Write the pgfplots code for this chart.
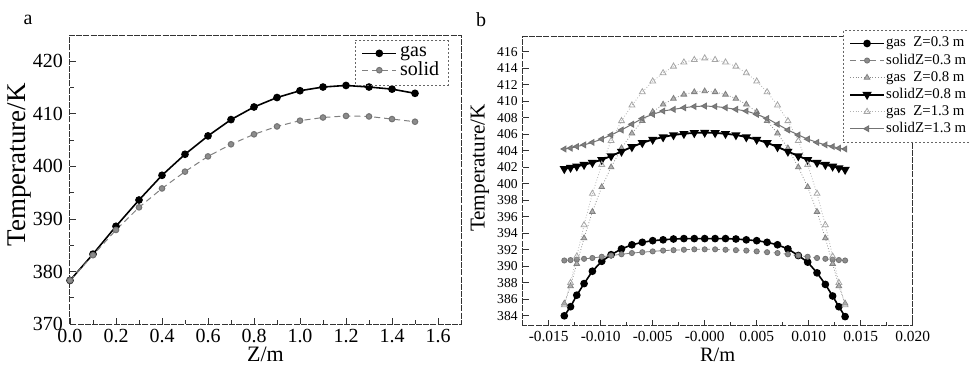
\documentclass[border=0pt]{standalone}
\usepackage{pgfplots}
\pgfplotsset{compat=1.18}
\usepackage{pgfplotstable}
\usepackage{fontspec}
\setmainfont{Liberation Serif}

\pgfplotstableread{
Z gas solid
0.0 378.3 378.3
0.1 383.3 383.1
0.2 388.6 387.9
0.3 393.6 392.2
0.4 398.3 395.8
0.5 402.3 399.0
0.6 405.8 401.9
0.7 408.9 404.2
0.8 411.3 406.1
0.9 413.1 407.6
1.0 414.4 408.7
1.1 415.1 409.3
1.2 415.4 409.6
1.3 415.1 409.5
1.4 414.7 409.0
1.5 413.9 408.5
}\tableA

\pgfplotstableread{
R g03 s03 g08 s08 g13 s13
-0.0135 384.0 390.7 385.5 401.8 385.3 404.2
-0.0129 385.1 390.75 387.6 401.95 388.0 404.3
-0.0123 386.5 390.8 390.3 402.1 391.2 404.5
-0.0116 387.9 390.9 393.4 402.3 395.0 404.7
-0.0108 389.4 391.0 396.6 402.55 398.8 405.0
-0.0099 390.6 391.15 399.6 402.9 402.3 405.4
-0.009 391.4 391.3 402.0 403.35 405.2 405.9
-0.008 392.1 391.45 404.3 403.9 407.6 406.5
-0.007 392.6 391.6 406.1 404.45 409.5 407.2
-0.006 392.9 391.7 407.6 404.95 411.1 407.9
-0.005 393.1 391.8 408.7 405.35 412.4 408.4
-0.004 393.2 391.9 409.6 405.65 413.4 408.8
-0.003 393.3 391.95 410.3 405.9 414.2 409.0
-0.002 393.35 392.0 410.8 406.05 414.7 409.2
-0.001 393.35 392.05 411.1 406.15 415.0 409.35
0.0 393.35 392.05 411.2 406.2 415.2 409.4
0.001 393.35 392.05 411.1 406.15 415.0 409.35
0.002 393.35 392.0 410.8 406.05 414.7 409.2
0.003 393.3 391.95 410.3 405.9 414.2 409.0
0.004 393.2 391.9 409.6 405.65 413.4 408.8
0.005 393.1 391.8 408.7 405.35 412.4 408.4
0.006 392.9 391.7 407.6 404.95 411.1 407.9
0.007 392.6 391.6 406.1 404.45 409.5 407.2
0.008 392.1 391.45 404.3 403.9 407.6 406.5
0.009 391.3 391.3 402.0 403.35 405.2 405.9
0.0099 390.5 391.15 399.6 402.9 402.3 405.4
0.0108 389.2 391.0 396.6 402.55 398.8 405.0
0.0116 387.8 390.9 393.4 402.3 395.0 404.7
0.0123 386.4 390.8 390.3 402.1 391.2 404.5
0.0129 385.1 390.75 387.6 401.9 388.0 404.3
0.0135 383.9 390.7 385.5 401.7 385.3 404.2
}\tableB

\begin{document}
\begin{tikzpicture}
\pgfplotsset{
  common/.style={
    scale only axis,
    axis line style={black!80, line width=0.5pt, dash pattern=on 3pt off 0.6pt},
    tick align=inside,
    xtick pos=bottom, ytick pos=left,
    tick style={black!80, line width=0.4pt},
    major tick length=3pt, minor tick length=1.8pt,
    /pgf/number format/assume math mode=true,
  }
}
% ---------------- panel a ----------------
\begin{axis}[common,
  at={(35pt,-162pt)}, anchor=south west,
  width=195.5pt, height=144.5pt,
  xmin=0, xmax=1.7, ymin=370, ymax=425,
  xtick={0,0.2,0.4,0.6,0.8,1.0,1.2,1.4,1.6},
  xticklabels={0.0,0.2,0.4,0.6,0.8,1.0,1.2,1.4,1.6},
  minor x tick num=1,
  ytick={370,380,390,400,410,420},
  minor y tick num=1,
  tick label style={font=\fontsize{10}{10}\selectfont},
  xticklabel style={yshift=1pt},
  xlabel={Z/m}, ylabel={Temperature/K},
  xlabel style={font=\fontsize{11}{11}\selectfont, at={(axis description cs:0.5,-0.105)}, anchor=center},
  ylabel style={font=\fontsize{13.5}{13.5}\selectfont, at={(axis description cs:-0.13,0.55)}, anchor=center},
  legend style={at={(axis description cs:0.729,0.983)}, anchor=north west,
    draw=black!60, dash pattern=on 1pt off 1pt, fill=none,
    font=\fontsize{10}{9}\selectfont, row sep=-1.5pt,
    nodes={inner ysep=1.2pt, inner xsep=1.5pt, solid}},
  legend cell align=left,
]
\addplot[black, line width=0.8pt, mark=*, mark size=1.5pt] table[x=Z, y=gas] {\tableA};
\addlegendentry{gas}
\addplot[black!50, line width=0.5pt, densely dashed, mark=*, mark size=1.4pt,
  mark options={solid, fill=black!45, draw=black!55}] table[x=Z, y=solid] {\tableA};
\addlegendentry{solid}
\end{axis}
% ---------------- panel b ----------------
\begin{axis}[common,
  at={(261.35pt,-162.85pt)}, anchor=south west,
  width=195pt, height=144.5pt,
  xmin=-0.0175, xmax=0.0200, ymin=382.8, ymax=417.8,
  xtick={-0.015,-0.010,-0.005,0,0.005,0.010,0.015,0.020},
  xticklabels={-0.015,-0.010,-0.005,-0.000,0.005,0.010,0.015,0.020},
  scaled x ticks=false,
  minor x tick num=1,
  ytick={384,386,...,418},
  xticklabel style={font=\fontsize{7.7}{7.7}\selectfont, yshift=1pt},
  yticklabel style={font=\fontsize{6.8}{6.8}\selectfont, xshift=1pt},
  xlabel={R/m}, ylabel={Temperature/K},
  xlabel style={font=\fontsize{10.2}{10.2}\selectfont, at={(axis description cs:0.5,-0.102)}, anchor=center},
  ylabel style={font=\fontsize{10.6}{10.6}\selectfont, at={(axis description cs:-0.11,0.546)}, anchor=center},
  legend style={at={(axis description cs:0.8205,1.023)}, anchor=north west,
    draw=black!60, dash pattern=on 1pt off 1pt, fill=white,
    font=\fontsize{7.4}{7}\selectfont, row sep=-0.6pt,
    nodes={inner ysep=1.3pt, inner xsep=0.6pt, solid}},
  legend cell align=left,
  legend image code/.code={
    \draw[mark repeat=2,mark phase=2,#1]
      plot coordinates {(0cm,0cm) (0.3cm,0cm) (0.6cm,0cm)};}
]
\addplot[black, line width=0.8pt, mark=*, mark size=1.5pt] table[x=R, y=g03] {\tableB};
\addlegendentry{gas\ \ Z=0.3 m}
\addplot[black!50, line width=0.4pt, densely dashed, mark=*, mark size=1.3pt,
  mark options={solid, fill=black!45, draw=black!55}] table[x=R, y=s03] {\tableB};
\addlegendentry{solidZ=0.3 m}
\addplot[black!45, line width=0.4pt, densely dotted, mark=triangle*, mark size=1.6pt,
  mark options={solid, fill=black!30, draw=black!50}] table[x=R, y=g08] {\tableB};
\addlegendentry{gas\ \ Z=0.8 m}
\addplot[black, line width=0.9pt, mark=triangle*, mark size=1.8pt,
  mark options={rotate=180}] table[x=R, y=s08] {\tableB};
\addlegendentry{solidZ=0.8 m}
\addplot[black!30, line width=0.4pt, densely dotted, mark=triangle, mark size=1.7pt,
  mark options={solid, draw=black!35}] table[x=R, y=g13] {\tableB};
\addlegendentry{gas\ \ Z=1.3 m}
\addplot[black!55, line width=0.5pt, mark=triangle*, mark size=1.6pt,
  mark options={rotate=90, fill=black!50}] table[x=R, y=s13] {\tableB};
\addlegendentry{solidZ=1.3 m}
\end{axis}
\node[font=\fontsize{10}{10}\selectfont] at (14pt,-10pt) {a};
\node[font=\fontsize{10}{10}\selectfont] at (240.5pt,-10pt) {b};
\pgfresetboundingbox
\useasboundingbox (0,0) rectangle (484.5pt,-182.5pt);
\end{tikzpicture}
\end{document}
